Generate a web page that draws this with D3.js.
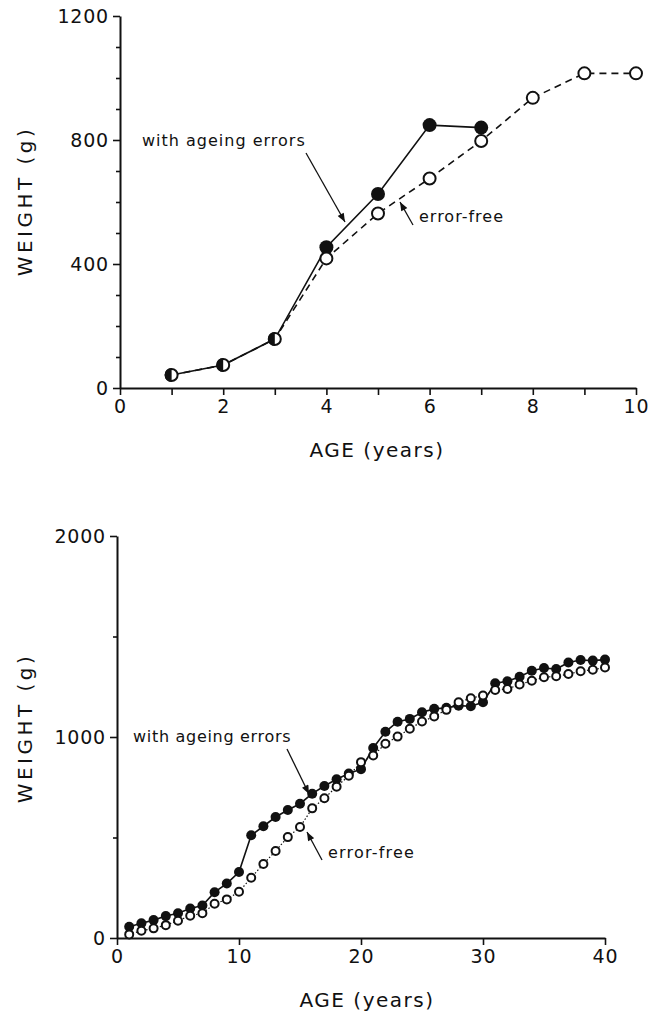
<!DOCTYPE html>
<html><head><meta charset="utf-8">
<script src="https://cdn.jsdelivr.net/npm/d3@7"></script>
<style>
html,body{margin:0;padding:0;background:#fff;}
svg text{font-family:"DejaVu Sans",sans-serif;fill:#111;}
</style></head>
<body>
<svg id="chart" width="655" height="1016"></svg>
<script>
// ---- Data: top panel ----
const topAges = [1,2,3,4,5,6,7,8,9,10];
const topErrorFree = [42,74,158,418,563,676,797,936,1015,1015];
const topAgeing = [42,74,158,454,626,848,840]; // ages 1..7
const topYTicksMajor = [0,400,800,1200];
const topYTicksMinor = [100,200,300,500,600,700,900,1000,1100];
const topXTicks = [0,1,2,3,4,5,6,7,8,9,10];
const topXLabels = [0,2,4,6,8,10];

// ---- Data: bottom panel ----
const botAges = d3.range(1,41);
const botAgeing = [56,73,89,109,123,147,162,228,271,328,511,556,602,637,668,718,756,790,818,840,
                   945,1026,1076,1090,1123,1140,1145,1156,1153,1173,1267,1277,1300,1330,1343,1338,1371,1383,1380,1385];
const botErrorFree = [18,36,48,64,86,111,123,170,192,230,300,368,433,502,552,645,695,753,807,875,
                      908,966,1002,1041,1077,1102,1135,1173,1193,1206,1234,1239,1261,1280,1297,1302,1313,1327,1335,1346];
const botYTicksMajor = [0,1000,2000];
const botYTicksMinor = [500,1500];
const botXTicks = [0,10,20,30,40];

const labelAgeing = "with ageing errors";
const labelFree = "error-free";
const xTitle = "AGE (years)";
const yTitle = "WEIGHT (g)";

const svg = d3.select("#chart");
const defs = svg.append("defs");
defs.append("marker").attr("id","arr").attr("viewBox","0 0 10 8")
  .attr("refX",10).attr("refY",4).attr("markerWidth",10).attr("markerHeight",7)
  .attr("markerUnits","userSpaceOnUse").attr("orient","auto")
  .append("path").attr("d","M0,0 L10,4 L0,8 Z").attr("fill","#111");

function styleAxis(g){
  g.selectAll("path.domain").attr("stroke","#111").attr("stroke-width",2);
  g.selectAll(".tick line").attr("stroke","#111").attr("stroke-width",1.6);
  g.selectAll(".tick text").style("font-family","DejaVu Sans").style("font-size","19px")
    .style("letter-spacing","0.8px").attr("fill","#111");
}

function panel(cfg){
  const x = d3.scaleLinear().domain(cfg.xDomain).range(cfg.xRange);
  const y = d3.scaleLinear().domain(cfg.yDomain).range(cfg.yRange);
  const g = svg.append("g");
  // minor y ticks
  g.append("g").attr("transform",`translate(${cfg.xRange[0]},0)`)
    .call(d3.axisLeft(y).tickValues(cfg.yMinor).tickSize(4).tickFormat("").tickSizeOuter(0))
    .call(a=>a.select(".domain").remove()).call(styleAxis);
  // major y ticks
  g.append("g").attr("transform",`translate(${cfg.xRange[0]},0)`)
    .call(d3.axisLeft(y).tickValues(cfg.yMajor).tickSize(7).tickPadding(4).tickSizeOuter(0).tickFormat(d3.format("d")))
    .call(styleAxis);
  // x axis ticks
  g.append("g").attr("transform",`translate(0,${cfg.yRange[0]})`)
    .call(d3.axisBottom(x).tickValues(cfg.xTicks).tickSize(7).tickPadding(5).tickSizeOuter(0)
      .tickFormat(d=>cfg.xLabels.includes(d)?d:""))
    .call(styleAxis);

  // lines
  const line = d3.line().x(d=>x(d[0])).y(d=>y(d[1]));
  const free = cfg.ages.map((a,i)=>[a,cfg.free[i]]);
  const ageing = cfg.ageing.map((v,i)=>[cfg.ages[i],v]);
  g.append("path").datum(free).attr("d",line).attr("fill","none").attr("stroke","#111")
    .attr("stroke-width",cfg.freeWidth).attr("stroke-dasharray",cfg.freeDash);
  g.append("path").datum(ageing).attr("d",line).attr("fill","none").attr("stroke","#111")
    .attr("stroke-width",1.6);

  const same = ageing.filter((d,i)=>d[1]===free[i][1]);
  const diff = ageing.filter((d,i)=>d[1]!==free[i][1]);
  g.selectAll("circle.f").data(diff).join("circle").attr("class","f")
    .attr("cx",d=>x(d[0])).attr("cy",d=>y(d[1])).attr("r",cfg.r).attr("fill","#111");
  g.selectAll("circle.o").data(free).join("circle").attr("class","o")
    .attr("cx",d=>x(d[0])).attr("cy",d=>y(d[1])).attr("r",cfg.r-1)
    .attr("fill","#fff").attr("stroke","#111").attr("stroke-width",cfg.ow);
  g.selectAll("path.h").data(same).join("path").attr("class","h")
    .attr("d",d=>{const cx=x(d[0]),cy=y(d[1]),r=cfg.r;return `M${cx},${cy-r} A${r},${r} 0 0 0 ${cx},${cy+r} Z`;})
    .attr("fill","#111");

  // titles
  g.append("text").attr("x",cfg.xTitlePos[0]).attr("y",cfg.xTitlePos[1]).attr("text-anchor","middle")
    .style("font-size","20px").style("letter-spacing","1.5px").text(xTitle);
  g.append("text").attr("transform",`translate(${cfg.yTitlePos[0]},${cfg.yTitlePos[1]}) rotate(-90)`)
    .attr("text-anchor","middle").style("font-size","20px").style("letter-spacing","3.5px").text(yTitle);

  // annotations
  g.append("text").attr("x",cfg.annA.tx).attr("y",cfg.annA.ty).style("font-size","16px")
    .style("letter-spacing",cfg.annA.ls).text(labelAgeing);
  g.append("line").attr("x1",cfg.annA.a[0]).attr("y1",cfg.annA.a[1]).attr("x2",cfg.annA.a[2]).attr("y2",cfg.annA.a[3])
    .attr("stroke","#111").attr("stroke-width",1.3).attr("marker-end","url(#arr)");
  g.append("text").attr("x",cfg.annF.tx).attr("y",cfg.annF.ty).style("font-size","16px")
    .style("letter-spacing",cfg.annF.ls).text(labelFree);
  g.append("line").attr("x1",cfg.annF.a[0]).attr("y1",cfg.annF.a[1]).attr("x2",cfg.annF.a[2]).attr("y2",cfg.annF.a[3])
    .attr("stroke","#111").attr("stroke-width",1.3).attr("marker-end","url(#arr)");
}

panel({
  xDomain:[0,10], xRange:[120,636], yDomain:[0,1200], yRange:[388,16],
  yMajor:topYTicksMajor, yMinor:topYTicksMinor, xTicks:topXTicks, xLabels:topXLabels,
  ages:topAges, free:topErrorFree, ageing:topAgeing, r:7, ow:2, freeWidth:1.6, freeDash:"7,5",
  xTitlePos:[377,457], yTitlePos:[32,201],
  annA:{tx:142,ty:146,ls:"1px",a:[306,153,345,222]},
  annF:{tx:419,ty:222,ls:"1px",a:[413,225,400,202]}
});
panel({
  xDomain:[0,40], xRange:[117,605], yDomain:[0,2000], yRange:[938,536],
  yMajor:botYTicksMajor, yMinor:botYTicksMinor, xTicks:botXTicks, xLabels:botXTicks,
  ages:botAges, free:botErrorFree, ageing:botAgeing, r:5, ow:2, freeWidth:1.2, freeDash:"1.5,2",
  xTitlePos:[367,1007], yTitlePos:[32,728],
  annA:{tx:133,ty:742,ls:"0.7px",a:[287,749,309,794]},
  annF:{tx:328,ty:858,ls:"1.2px",a:[322,860,307,832]}
});
</script>
</body></html>
